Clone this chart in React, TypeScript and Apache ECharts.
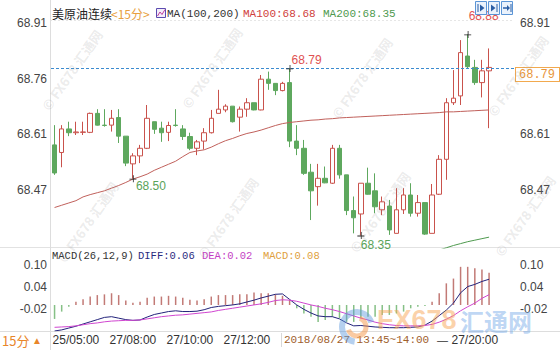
import React, { useEffect, useRef } from 'react';
import * as echarts from 'echarts';

const categories = [
  '25/04:15','25/04:30','25/04:45','25/05:00','27/06:15','27/06:30','27/06:45','27/07:00','27/07:15','27/07:30',
  '27/07:45','27/08:00','27/08:15','27/08:30','27/08:45','27/09:00','27/09:15','27/09:30','27/09:45','27/10:00',
  '27/10:15','27/10:30','27/10:45','27/11:00','27/11:15','27/11:30','27/11:45','27/12:00','27/12:15','27/12:30',
  '27/12:45','27/13:00','27/13:15','27/13:30','27/13:45','27/14:00','27/14:15','27/14:30','27/14:45','27/15:00',
  '27/15:15','27/15:30','27/15:45','27/16:00','27/16:15','27/16:30','27/16:45','27/17:00','27/17:15','27/17:30',
  '27/17:45','27/18:00','27/18:15','27/18:30','27/18:45','27/19:00','27/19:15','27/19:30','27/19:45','27/20:00',
  '27/20:15','27/20:30','27/20:45','27/21:00','27/21:15',
];

// [open, close, low, high]
const candles: number[][] = [
  [68.589, 68.515, 68.510, 68.641],
  [68.569, 68.631, 68.530, 68.641],
  [68.631, 68.621, 68.612, 68.650],
  [68.621, 68.623, 68.615, 68.650],
  [68.622, 68.623, 68.615, 68.650],
  [68.622, 68.672, 68.620, 68.674],
  [68.672, 68.641, 68.640, 68.683],
  [68.641, 68.640, 68.637, 68.683],
  [68.641, 68.659, 68.624, 68.681],
  [68.661, 68.612, 68.594, 68.683],
  [68.612, 68.541, 68.533, 68.612],
  [68.539, 68.560, 68.500, 68.567],
  [68.560, 68.580, 68.541, 68.589],
  [68.580, 68.659, 68.578, 68.694],
  [68.650, 68.630, 68.618, 68.650],
  [68.633, 68.621, 68.597, 68.650],
  [68.622, 68.640, 68.599, 68.650],
  [68.641, 68.640, 68.637, 68.683],
  [68.631, 68.611, 68.602, 68.641],
  [68.611, 68.580, 68.575, 68.621],
  [68.580, 68.597, 68.562, 68.602],
  [68.599, 68.621, 68.577, 68.633],
  [68.621, 68.659, 68.619, 68.681],
  [68.672, 68.683, 68.672, 68.734],
  [68.681, 68.691, 68.675, 68.696],
  [68.691, 68.650, 68.648, 68.691],
  [68.662, 68.683, 68.624, 68.690],
  [68.683, 68.700, 68.663, 68.712],
  [68.700, 68.681, 68.680, 68.700],
  [68.681, 68.762, 68.680, 68.773],
  [68.762, 68.751, 68.734, 68.782],
  [68.751, 68.732, 68.720, 68.751],
  [68.732, 68.751, 68.730, 68.755],
  [68.753, 68.599, 68.583, 68.790],
  [68.599, 68.580, 68.562, 68.641],
  [68.580, 68.514, 68.510, 68.602],
  [68.517, 68.468, 68.391, 68.539],
  [68.479, 68.501, 68.429, 68.539],
  [68.501, 68.489, 68.488, 68.532],
  [68.488, 68.580, 68.486, 68.589],
  [68.580, 68.510, 68.500, 68.589],
  [68.510, 68.416, 68.404, 68.510],
  [68.416, 68.397, 68.356, 68.453],
  [68.407, 68.488, 68.350, 68.488],
  [68.488, 68.459, 68.458, 68.529],
  [68.468, 68.426, 68.409, 68.514],
  [68.418, 68.439, 68.404, 68.453],
  [68.428, 68.365, 68.352, 68.444],
  [68.356, 68.418, 68.356, 68.475],
  [68.418, 68.457, 68.407, 68.475],
  [68.457, 68.409, 68.400, 68.488],
  [68.409, 68.437, 68.400, 68.457],
  [68.437, 68.354, 68.352, 68.437],
  [68.356, 68.457, 68.356, 68.486],
  [68.459, 68.551, 68.457, 68.562],
  [68.551, 68.700, 68.497, 68.712],
  [68.700, 68.712, 68.694, 68.786],
  [68.718, 68.832, 68.694, 68.865],
  [68.823, 68.795, 68.791, 68.880],
  [68.793, 68.753, 68.747, 68.813],
  [68.753, 68.784, 68.714, 68.813],
  [68.784, 68.793, 68.633, 68.843],
];

const ma100 = [
  68.424, 68.430, 68.436, 68.442, 68.452, 68.458, 68.463, 68.468, 68.475, 68.482,
  68.490, 68.499, 68.505, 68.512, 68.522, 68.530, 68.538, 68.546, 68.558, 68.569,
  68.573, 68.576, 68.583, 68.592, 68.600, 68.606, 68.613, 68.619, 68.623, 68.628,
  68.634, 68.640, 68.645, 68.648, 68.650, 68.652, 68.654, 68.655, 68.657, 68.658,
  68.660, 68.661, 68.662, 68.663, 68.664, 68.665, 68.666, 68.667, 68.668, 68.669,
  68.670, 68.671, 68.672, 68.673, 68.674, 68.676, 68.676, 68.677, 68.678, 68.679,
  68.680, 68.681,
];

// MA200 lies below the visible price range until the last bars
const ma200Visible = [68.312, 68.318, 68.324, 68.329, 68.334, 68.338, 68.342, 68.346];
const ma200: (number | null)[] = new Array(54).fill(null).concat(ma200Visible);

const diff = [
  -0.079, -0.076, -0.071, -0.066, -0.060, -0.054, -0.048, -0.042, -0.040, -0.044,
  -0.048, -0.050, -0.049, -0.041, -0.034, -0.030, -0.026, -0.024, -0.026, -0.026,
  -0.025, -0.021, -0.015, -0.012, -0.010, -0.008, -0.005, 0.000, 0.005, 0.011,
  0.016, 0.021, 0.022, 0.007, -0.008, -0.020, -0.030, -0.038, -0.040, -0.040,
  -0.046, -0.057, -0.065, -0.064, -0.066, -0.068, -0.069, -0.070, -0.070, -0.070,
  -0.069, -0.068, -0.063, -0.052, -0.037, -0.022, -0.003, 0.025, 0.042, 0.048,
  0.056, 0.062,
];

const dea = [
  -0.069, -0.068, -0.067, -0.065, -0.062, -0.059, -0.057, -0.054, -0.052, -0.051,
  -0.050, -0.050, -0.049, -0.046, -0.043, -0.040, -0.038, -0.036, -0.035, -0.033,
  -0.031, -0.029, -0.027, -0.023, -0.020, -0.017, -0.014, -0.011, -0.008, -0.005,
  -0.001, 0.004, 0.006, 0.005, 0.002, -0.003, -0.008, -0.012, -0.017, -0.021,
  -0.026, -0.032, -0.038, -0.044, -0.049, -0.055, -0.059, -0.062, -0.064, -0.065,
  -0.065, -0.065, -0.064, -0.061, -0.055, -0.047, -0.037, -0.024, -0.013, -0.003,
  0.010, 0.020,
];

const macdHist = [
  -0.038, -0.018, -0.005, 0.009, 0.016, 0.023, 0.027, 0.029, 0.032, 0.027,
  0.012, 0.006, 0.009, 0.020, 0.023, 0.023, 0.025, 0.023, 0.020, 0.014,
  0.012, 0.016, 0.023, 0.027, 0.027, 0.027, 0.029, 0.029, 0.034, 0.032,
  0.032, 0.029, 0.025, 0.014, -0.009, -0.023, -0.032, -0.046, -0.041, -0.032,
  -0.036, -0.046, -0.046, -0.036, -0.032, -0.032, -0.027, -0.027, -0.023, -0.018,
  -0.009, -0.005, -0.003, 0.009, 0.032, 0.059, 0.072, 0.104, 0.104, 0.100,
  0.097, 0.088,
];

const priceTicks = [68.47, 68.6167, 68.7633, 68.91];
const priceTickLabels = ['68.47', '68.61', '68.76', '68.91'];
// on the right, the 68.76 tick is hidden under the last-price box
const rightPriceTicks = [68.47, 68.6167, 68.91];
const rightPriceTickLabels = ['68.47', '68.61', '68.91'];
const macdTicks = [-0.02, 0.04, 0.1];
const macdTickLabels = ['-0.02', '0.04', '0.10'];
const shownTimeLabels = ['25/05:00', '27/08:00', '27/10:00', '27/12:00', '27/20:00'];

const lastPrice = 68.79;
const macdMark = 0.1;
const highMarks = [
  { idx: 33, value: 68.79 },
  { idx: 58, value: 68.88 },
];
const lowMarks = [
  { idx: 11, value: 68.5 },
  { idx: 43, value: 68.35 },
];

const UP = '#c9524c';
const DOWN = '#5ea85e';
const MONO = '"Liberation Mono", "DejaVu Sans Mono", monospace';
const SANS = '"Liberation Sans", Arial, sans-serif';
const CJK = '"Noto Sans CJK SC", sans-serif';

const fmt = (ticks: number[], labels: string[]) => (v: number) => {
  let best = 0;
  for (let i = 0; i < ticks.length; i++) {
    if (Math.abs(ticks[i] - v) < Math.abs(ticks[best] - v)) best = i;
  }
  return labels[best];
};

const txt = (x: number, y: number, text: string, fill: string, font: string, align = 'left', extra: any = {}) => ({
  type: 'text',
  x,
  y,
  z: 50,
  silent: true,
  ...extra,
  style: {
    text,
    fill,
    font,
    align,
    textAlign: align,
    verticalAlign: 'middle',
    textVerticalAlign: 'middle',
  },
});

const hline = (x1: number, x2: number, y: number, stroke: string, dash?: number[]) => ({
  type: 'line',
  z: 1,
  silent: true,
  shape: { x1, y1: y, x2, y2: y },
  style: { stroke, lineWidth: 1, lineDash: dash },
});

const watermarkSpots = [
  [72, 70], [212, 68], [362, 78], [518, 76],
  [88, 222], [228, 218], [380, 212], [525, 216],
];

export default function App() {
  const ref = useRef<HTMLDivElement>(null);

  useEffect(() => {
    if (!ref.current) return;
    const chart = echarts.init(ref.current, undefined, { renderer: 'svg' });

    const priceMin = 68.3174;
    const priceMax = 68.9495;
    const macdMin = -0.07902;
    const macdMax = 0.14169;
    const histMin = -0.07084;
    const histMax = 0.14986;

    const labelStyle = { color: '#444', fontSize: 12, fontFamily: SANS };

    const boxLabel = (text: string) => ({
      show: true,
      position: 'end',
      distance: 2,
      formatter: () => text,
      backgroundColor: '#fff',
      borderColor: '#f2a94e',
      borderWidth: 1,
      padding: [1, 4, 0, 3],
      color: '#e8963a',
      fontFamily: MONO,
      fontSize: 12,
      offset: [0, 6],
    });

    const crossSymbol = 'path://M0,4.5L9,4.5L9,5.5L0,5.5Z M4.5,0L5.5,0L5.5,9L4.5,9Z';

    const graphics: any[] = [
      // panel separators
      hline(0, 560, 247.5, '#e2e2e2'),
      hline(0, 560, 331.5, '#dddddd'),
      hline(50, 514, 20.5, '#e6e6e6', [2, 2]),
      {
        type: 'line', z: 1, silent: true,
        shape: { x1: 50.5, y1: 0, x2: 50.5, y2: 350 },
        style: { stroke: '#dddddd', lineWidth: 1 },
      },
      // title row
      txt(52, 13, '美原油连续', '#222', `12px ${CJK}`),
      txt(111, 13, '<15分>', '#e8a040', `12px ${CJK}`),
      {
        type: 'rect', z: 50, silent: true,
        shape: { x: 156.5, y: 8.5, width: 9, height: 9 },
        style: { fill: '#f2eefa', stroke: '#5b4bb0', lineWidth: 1 },
      },
      {
        type: 'polyline', z: 51, silent: true,
        shape: { points: [[157.5, 16], [160, 12], [162, 14.5], [165, 9.5]] },
        style: { stroke: '#c03c9c', lineWidth: 1, fill: null },
      },
      txt(167, 13.5, 'MA(100,200)', '#333', `11px ${MONO}`),
      txt(243, 13.5, 'MA100:68.68', '#d0403c', `11px ${MONO}`),
      txt(323, 13.5, 'MA200:68.35', '#4f9a4f', `11px ${MONO}`),
      // MACD title row
      txt(52, 256, 'MACD(26,12,9)', '#333', `10.5px ${MONO}`),
      txt(138, 256, 'DIFF:0.06', '#2a2a80', `10.5px ${MONO}`),
      txt(202, 256, 'DEA:0.02', '#c43ec4', `10.5px ${MONO}`),
      txt(263, 256, 'MACD:0.08', '#e0a040', `10.5px ${MONO}`),
      // bottom-left period selector
      txt(2, 340, '15分', '#e8862a', `13px ${CJK}`),
      txt(32, 340, '▲', '#e8862a', `10px ${SANS}`),
      // time overlay box
      {
        type: 'line', z: 50, silent: true,
        shape: { x1: 281.5, y1: 333, x2: 281.5, y2: 347 },
        style: { stroke: '#d8d8d8', lineWidth: 1 },
      },
      txt(284, 340, '2018/08/27 13:45~14:00', '#a0602c', `11px ${MONO}`),
      txt(437, 340, '—', '#333', `11px ${SANS}`),
    ];

    // three tool buttons at top right
    [475, 488, 501].forEach((bx, k) => {
      graphics.push({
        type: 'rect', z: 60, silent: true,
        shape: { x: bx + 0.5, y: 1.5, width: 11, height: 13 },
        style: { fill: '#eaf2fc', stroke: '#5b95d6', lineWidth: 1 },
      });
      const cx = bx + 6;
      if (k === 0) {
        graphics.push({ type: 'line', z: 61, silent: true, shape: { x1: cx - 3, y1: 4, x2: cx - 3, y2: 12 }, style: { stroke: '#2b5ea5', lineWidth: 1 } });
        graphics.push({ type: 'polygon', z: 61, silent: true, shape: { points: [[cx - 1, 4.5], [cx + 3.5, 8], [cx - 1, 11.5]] }, style: { fill: '#2b5ea5' } });
      } else if (k === 1) {
        graphics.push({ type: 'polygon', z: 61, silent: true, shape: { points: [[cx - 3, 4.5], [cx + 1.5, 8], [cx - 3, 11.5]] }, style: { fill: '#2b5ea5' } });
        graphics.push({ type: 'line', z: 61, silent: true, shape: { x1: cx + 3, y1: 4, x2: cx + 3, y2: 12 }, style: { stroke: '#2b5ea5', lineWidth: 1 } });
      } else {
        graphics.push({ type: 'line', z: 61, silent: true, shape: { x1: cx - 4, y1: 8, x2: cx + 2, y2: 8 }, style: { stroke: '#2b5ea5', lineWidth: 1.5 } });
        graphics.push({ type: 'polygon', z: 61, silent: true, shape: { points: [[cx, 5], [cx + 3, 8], [cx, 11]] }, style: { fill: '#2b5ea5' } });
        graphics.push({ type: 'line', z: 61, silent: true, shape: { x1: cx + 4, y1: 4, x2: cx + 4, y2: 12 }, style: { stroke: '#2b5ea5', lineWidth: 1 } });
      }
    });

    // diagonal watermarks
    watermarkSpots.forEach(([wx, wy]) => {
      graphics.push({
        type: 'text', x: wx, y: wy, z: 90, silent: true,
        rotation: (55 * Math.PI) / 180,
        style: {
          text: '© FX678 汇通网',
          fill: 'rgba(140,140,140,0.18)',
          font: `bold 13px ${CJK}`,
          align: 'center', textAlign: 'center',
          verticalAlign: 'middle', textVerticalAlign: 'middle',
        },
      });
    });

    // big logo
    graphics.push({
      type: 'arc', z: 91, silent: true,
      shape: { cx: 357, cy: 327, r: 15, startAngle: Math.PI * 0.55, endAngle: Math.PI * 1.9 },
      style: { stroke: 'rgba(90,150,220,0.45)', lineWidth: 6, fill: null },
    });
    graphics.push({
      type: 'arc', z: 91, silent: true,
      shape: { cx: 357, cy: 327, r: 9, startAngle: Math.PI * 1.6, endAngle: Math.PI * 2.9 },
      style: { stroke: 'rgba(246,150,70,0.5)', lineWidth: 5, fill: null },
    });
    graphics.push(txt(377, 320, 'FX678', 'rgba(248,165,85,0.5)', `bold 27px ${SANS}`, 'left', { z: 91 }));
    graphics.push(txt(460, 320, '汇通网', 'rgba(110,165,230,0.45)', `bold 24px ${CJK}`, 'left', { z: 91 }));

    const option: any = {
      animation: false,
      backgroundColor: '#ffffff',
      grid: [
        { left: 51, right: 46, top: 8, height: 240, outerBoundsMode: 'none' },
        { left: 51, right: 46, top: 250, height: 81, outerBoundsMode: 'none' },
      ],
      xAxis: [
        {
          type: 'category', gridIndex: 0, data: categories, boundaryGap: true,
          axisLine: { show: false }, axisTick: { show: false }, axisLabel: { show: false }, splitLine: { show: false },
        },
        {
          type: 'category', gridIndex: 1, data: categories, boundaryGap: true,
          axisLine: { show: false }, axisTick: { show: false }, splitLine: { show: false },
          axisLabel: {
            interval: (_i: number, v: string) => shownTimeLabels.includes(v),
            margin: 3,
            color: '#333',
            fontSize: 12,
            fontFamily: SANS,
          },
        },
      ],
      yAxis: [
        {
          type: 'value', gridIndex: 0, position: 'left', min: priceMin, max: priceMax, scale: true,
          axisLine: { show: false }, axisTick: { show: false, customValues: priceTicks }, splitLine: { show: false },
          axisLabel: { ...labelStyle, customValues: priceTicks, formatter: fmt(priceTicks, priceTickLabels), margin: 4 },
        },
        {
          type: 'value', gridIndex: 0, position: 'right', min: priceMin, max: priceMax, scale: true,
          axisLine: { show: false }, axisTick: { show: false, customValues: rightPriceTicks }, splitLine: { show: false },
          axisLabel: { ...labelStyle, customValues: rightPriceTicks, formatter: fmt(rightPriceTicks, rightPriceTickLabels), margin: 6 },
        },
        {
          type: 'value', gridIndex: 1, position: 'left', min: macdMin, max: macdMax,
          axisLine: { show: false }, axisTick: { show: false, customValues: macdTicks }, splitLine: { show: false },
          axisLabel: { ...labelStyle, customValues: macdTicks, formatter: fmt(macdTicks, macdTickLabels), margin: 4 },
        },
        {
          type: 'value', gridIndex: 1, position: 'right', min: macdMin, max: macdMax,
          axisLine: { show: false }, axisTick: { show: false, customValues: macdTicks }, splitLine: { show: false },
          axisLabel: { ...labelStyle, customValues: macdTicks, formatter: fmt(macdTicks, macdTickLabels), margin: 6 },
        },
        {
          type: 'value', gridIndex: 1, min: histMin, max: histMax, show: false,
          axisLine: { show: false }, axisTick: { show: false }, splitLine: { show: false }, axisLabel: { show: false },
        },
      ],
      series: [
        {
          type: 'candlestick',
          name: 'price',
          xAxisIndex: 0,
          yAxisIndex: 0,
          data: candles,
          barWidth: 5,
          itemStyle: {
            color: '#ffffff',
            color0: DOWN,
            borderColor: UP,
            borderColor0: DOWN,
            borderWidth: 1,
          },
          markLine: {
            silent: true,
            symbol: ['none', 'none'],
            lineStyle: { color: '#3b8bd0', type: [3, 2], width: 1 },
            label: boxLabel(lastPrice.toFixed(2)),
            data: [{ yAxis: lastPrice }],
          },
          markPoint: {
            silent: true,
            symbol: crossSymbol,
            symbolSize: 7,
            itemStyle: { color: '#222' },
            data: [
              ...highMarks.map((m, k) => ({
                coord: [m.idx, m.value],
                value: m.value,
                label: {
                  show: true, position: 'inside',
                  offset: k === 0 ? [17, -9] : [16, -18],
                  color: '#e05252', fontSize: 12, fontFamily: SANS,
                  formatter: () => m.value.toFixed(2),
                },
              })),
              ...lowMarks.map((m, k) => ({
                coord: [m.idx, m.value],
                value: m.value,
                label: {
                  show: true, position: 'inside',
                  offset: k === 0 ? [18, 7] : [15, 9],
                  color: '#5aa35a', fontSize: 12, fontFamily: SANS,
                  formatter: () => m.value.toFixed(2),
                },
              })),
            ],
          },
          z: 3,
        },
        {
          type: 'line', name: 'MA100', xAxisIndex: 0, yAxisIndex: 0, data: ma100,
          symbol: 'none', lineStyle: { color: '#c0605b', width: 1 }, z: 4,
        },
        {
          type: 'line', name: 'MA200', xAxisIndex: 0, yAxisIndex: 0, data: ma200,
          symbol: 'none', connectNulls: false, lineStyle: { color: '#4f9a4f', width: 1 }, z: 4,
        },
        {
          type: 'bar', name: 'MACD', xAxisIndex: 1, yAxisIndex: 4, data: macdHist,
          barWidth: 1.5,
          itemStyle: { color: (p: any) => (p.value >= 0 ? '#c27a76' : '#86c086') },
          z: 2,
        },
        {
          type: 'line', name: 'DIFF', xAxisIndex: 1, yAxisIndex: 2, data: diff,
          symbol: 'none', lineStyle: { color: '#22227a', width: 1 }, z: 4,
          markLine: {
            silent: true,
            symbol: ['none', 'none'],
            lineStyle: { opacity: 0 },
            label: { ...boxLabel(macdMark.toFixed(2)), offset: [0, 7] },
            data: [{ yAxis: macdMark }],
          },
        },
        {
          type: 'line', name: 'DEA', xAxisIndex: 1, yAxisIndex: 2, data: dea,
          symbol: 'none', lineStyle: { color: '#d046d0', width: 1 }, z: 4,
        },
      ],
      graphic: { elements: graphics },
    };

    chart.setOption(option);
    return () => chart.dispose();
  }, []);

  return (
    <div
      ref={ref}
      style={{ position: 'fixed', left: 0, top: 0, width: 560, height: 360, background: '#fff' }}
    />
  );
}
